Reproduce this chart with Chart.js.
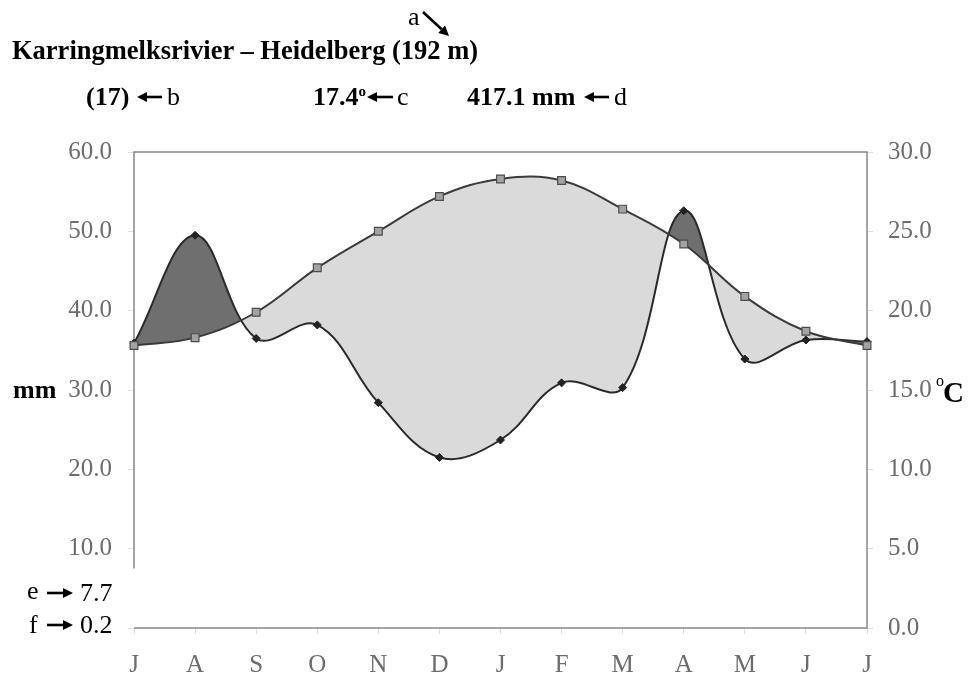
<!DOCTYPE html>
<html>
<head>
<meta charset="utf-8">
<title>Karringmelksrivier – Heidelberg</title>
<script src="https://cdn.jsdelivr.net/npm/chart.js@4.4.1/dist/chart.umd.min.js"></script>
<style>
  html, body { margin: 0; padding: 0; background: #fff; }
  #wrap { position: relative; width: 973px; height: 682px; font-family: 'Liberation Serif', 'Times New Roman', serif; }
  .t { position: absolute; white-space: nowrap; transform: translateY(-50%); line-height: 1; color: #000; font-size: 26px; }
  .b { font-weight: bold; }
  #arrows { position: absolute; left: 0; top: 0; pointer-events: none; }
</style>
</head>
<body>
<div id="wrap">
  <canvas id="climate"></canvas>
  <svg id="arrows" width="973" height="682"></svg>

  <div class="t" style="left:408px;top:17px;">a</div>
  <div class="t b" style="left:12px;top:50px;font-size:26.5px;">Karringmelksrivier – Heidelberg (192 m)</div>

  <div class="t b" style="left:86px;top:97px;">(17)</div>
  <div class="t" style="left:167px;top:97px;">b</div>
  <div class="t b" style="left:313px;top:97px;">17.4<sup style="font-size:15px">o</sup></div>
  <div class="t" style="left:397px;top:97px;">c</div>
  <div class="t b" style="left:467px;top:97px;">417.1 mm</div>
  <div class="t" style="left:614px;top:97px;">d</div>

  <div class="t b" style="left:13px;top:390px;">mm</div>
  <div class="t" style="left:936px;top:381px;font-size:16px;">o</div>
  <div class="t b" style="left:943px;top:392px;font-size:29px;">C</div>

  <div class="t" style="left:27px;top:591px;">e</div>
  <div class="t" style="left:80px;top:593px;">7.7</div>
  <div class="t" style="left:29px;top:625px;">f</div>
  <div class="t" style="left:80px;top:625px;">0.2</div>
</div>

<script>
// months from July to July
const months = ['J', 'A', 'S', 'O', 'N', 'D', 'J', 'F', 'M', 'A', 'M', 'J', 'J'];
// monthly rainfall, mm (left axis)
const rainfall = [35.9, 49.5, 36.5, 38.2, 28.4, 21.5, 23.7, 30.9, 30.3, 52.6, 33.9, 36.3, 36.1];
// monthly mean temperature, degrees C (right axis)
const temperature = [17.8, 18.3, 19.9, 22.7, 25.0, 27.2, 28.3, 28.2, 26.4, 24.2, 20.9, 18.7, 17.8];
// tick labels (the 0 on the mm side is covered by the "f" note)
const mmTicks = ['', '10.0', '20.0', '30.0', '40.0', '50.0', '60.0'];
const degTicks = ['0.0', '5.0', '10.0', '15.0', '20.0', '25.0', '30.0'];

const tickFont = { family: "'Liberation Serif', 'Times New Roman', serif", size: 25 };
const tickColor = '#6c6c6c';

// little pointer arrows for the a-f notes
const svg = document.getElementById('arrows');
function arrow(x1, y1, x2, y2) {
  const ns = 'http://www.w3.org/2000/svg';
  const ang = Math.atan2(y2 - y1, x2 - x1);
  const head = 10, half = 5;
  const bx = x2 - head * Math.cos(ang), by = y2 - head * Math.sin(ang);
  const line = document.createElementNS(ns, 'line');
  line.setAttribute('x1', x1); line.setAttribute('y1', y1);
  line.setAttribute('x2', bx); line.setAttribute('y2', by);
  line.setAttribute('stroke', '#000'); line.setAttribute('stroke-width', 2.6);
  svg.appendChild(line);
  const px = -Math.sin(ang) * half, py = Math.cos(ang) * half;
  const tri = document.createElementNS(ns, 'polygon');
  tri.setAttribute('points', `${x2},${y2} ${bx + px},${by + py} ${bx - px},${by - py}`);
  tri.setAttribute('fill', '#000');
  svg.appendChild(tri);
}
arrow(423, 12, 449, 36);
arrow(162, 97, 137, 97);
arrow(393, 97, 367, 97);
arrow(609, 97, 584, 97);
arrow(47, 593, 73, 593);
arrow(47, 625, 73, 625);

// plot frame, left side left open near the bottom
const framePlugin = {
  id: 'frame',
  beforeDatasetsDraw(chart) {
    const { ctx, chartArea: a, scales } = chart;
    const gapTop = scales.y.getPixelForValue(7.5);
    ctx.save();
    ctx.strokeStyle = '#868686';
    ctx.lineWidth = 1.5;
    ctx.beginPath();
    ctx.moveTo(a.left, gapTop);
    ctx.lineTo(a.left, a.top);
    ctx.lineTo(a.right, a.top);
    ctx.lineTo(a.right, a.bottom);
    ctx.lineTo(a.left, a.bottom);
    ctx.stroke();
    ctx.restore();
  }
};

const ctx = document.getElementById('climate').getContext('2d');
const climateChart = new Chart(ctx, {
  type: 'line',
  data: {
    labels: months,
    datasets: [{
      label: 'Temperature (°C)',
      data: temperature,
      yAxisID: 'y1',
      borderColor: '#3a3a3a',
      borderWidth: 2,
      tension: 0.38,
      pointStyle: 'rect',
      pointRadius: 5.5,
      pointBackgroundColor: '#a3a3a3',
      pointBorderColor: '#4c4c4c',
      pointBorderWidth: 1.2,
      fill: false
    }, {
      label: 'Rainfall (mm)',
      data: rainfall,
      yAxisID: 'y',
      borderColor: '#2a2a2a',
      borderWidth: 2,
      tension: 0.38,
      pointStyle: 'rectRot',
      pointRadius: 4,
      pointBackgroundColor: '#222',
      pointBorderColor: '#222',
      pointBorderWidth: 1,
      fill: { target: 0, above: '#6f6f6f', below: '#dadada' }
    }]
  },
  options: {
    responsive: true,
    maintainAspectRatio: false,
    animation: false,
    layout: { padding: { top: 152, left: 0, right: 0, bottom: 0 } },
    plugins: {
      legend: { display: false },
      tooltip: { enabled: false }
    },
    scales: {
      x: {
        border: { display: false },
        grid: { drawOnChartArea: false, tickLength: 6, color: '#dedede' },
        ticks: { font: tickFont, color: tickColor, padding: 16, autoSkip: false, maxRotation: 0 },
        afterFit(scale) { scale.height = 54; }
      },
      y: {
        position: 'left',
        min: 0,
        max: 60,
        border: { display: false },
        grid: { drawOnChartArea: false, tickLength: 6, color: '#dedede' },
        ticks: {
          stepSize: 10,
          font: tickFont,
          color: tickColor,
          padding: 16,
          callback: (v, i) => mmTicks[i]
        },
        afterFit(scale) { scale.width = 134; }
      },
      y1: {
        position: 'right',
        min: 0,
        max: 30,
        border: { display: false },
        grid: { drawOnChartArea: false, tickLength: 6, color: '#dedede' },
        ticks: {
          stepSize: 5,
          font: tickFont,
          color: tickColor,
          padding: 15,
          callback: (v, i) => degTicks[i]
        },
        afterFit(scale) { scale.width = 106; }
      }
    }
  },
  plugins: [framePlugin]
});
</script>
</body>
</html>
